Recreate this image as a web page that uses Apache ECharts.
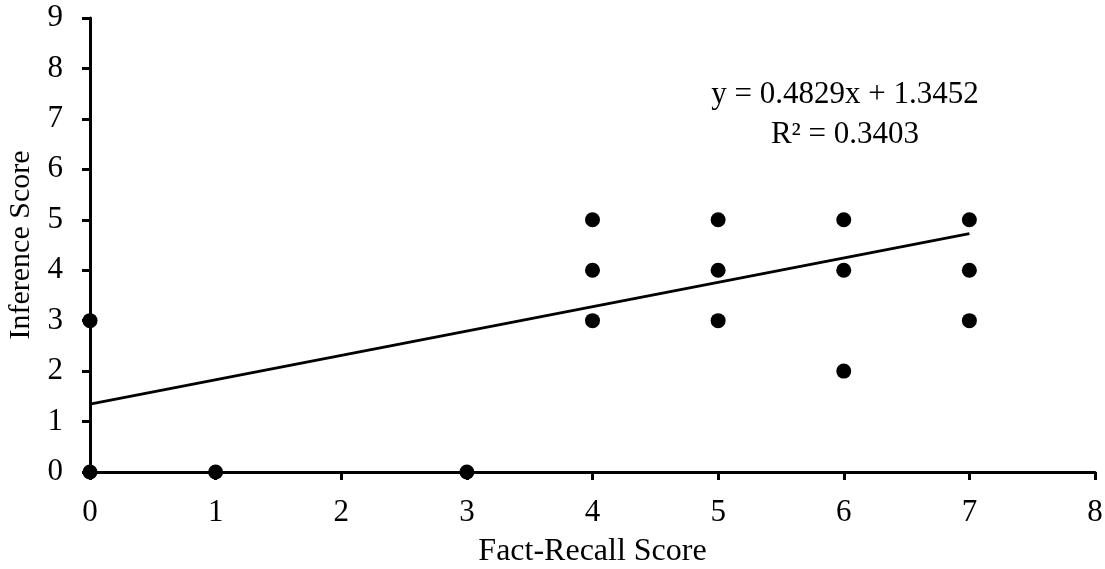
<!DOCTYPE html>
<html>
<head>
<meta charset="utf-8">
<script src="https://cdn.jsdelivr.net/npm/echarts@6/dist/echarts.min.js"></script>
<style>html,body{margin:0;padding:0;background:#fff}#c{width:1105px;height:569px}</style>
</head>
<body>
<div id="c"></div>
<script>
var xValues = [0, 0, 1, 3, 4, 4, 4, 5, 5, 5, 6, 6, 6, 7, 7, 7];
var yValues = [0, 3, 0, 0, 3, 4, 5, 3, 4, 5, 2, 4, 5, 3, 4, 5];
var slope = 0.4829;
var intercept = 1.3452;
var r2 = 0.3403;
var trendX = [0, 7];
var xTicks = [0, 1, 2, 3, 4, 5, 6, 7, 8];
var yTicks = [0, 1, 2, 3, 4, 5, 6, 7, 8, 9];

var points = xValues.map(function (x, i) { return [x, yValues[i]]; });
var trend = trendX.map(function (x) { return [x, slope * x + intercept]; });
var font = '"Liberation Serif", "Times New Roman", serif';

var chart = echarts.init(document.getElementById('c'));
chart.setOption({
  animation: false,
  grid: { left: 90, right: 10, top: 18, bottom: 97, containLabel: false, outerBoundsMode: 'none' },
  xAxis: {
    type: 'value', min: 0, max: 8, interval: 1,
    name: 'Fact-Recall Score', nameLocation: 'middle', nameGap: 64,
    nameTextStyle: { fontFamily: font, fontSize: 32, color: '#000' },
    axisLine: { show: true, lineStyle: { color: '#000', width: 3 } },
    axisTick: { show: true, inside: false, length: 8, lineStyle: { color: '#000', width: 3 } },
    axisLabel: { fontFamily: font, fontSize: 31, color: '#000', margin: 25 },
    splitLine: { show: false }
  },
  yAxis: {
    type: 'value', min: 0, max: 9, interval: 1,
    name: 'Inference Score', nameLocation: 'middle', nameGap: 52, nameRotate: 90,
    nameTextStyle: { fontFamily: font, fontSize: 30, color: '#000' },
    axisLine: { show: true, lineStyle: { color: '#000', width: 3 } },
    axisTick: { show: true, inside: false, length: 8, lineStyle: { color: '#000', width: 3 } },
    axisLabel: { fontFamily: font, fontSize: 31, color: '#000', margin: 27 },
    splitLine: { show: false }
  },
  series: [
    {
      type: 'line', data: trend, symbol: 'none', z: 3,
      lineStyle: { color: '#000', width: 3 }
    },
    {
      type: 'scatter', data: points, symbol: 'circle', symbolSize: 15, z: 4,
      itemStyle: { color: '#000', opacity: 1 }
    }
  ],
  graphic: [
    {
      type: 'text', x: 845, y: 115,
      style: {
        text: 'y = ' + slope + 'x + ' + intercept + '\nR² = ' + r2,
        font: '31px "Liberation Serif"', fill: '#000', align: 'center', verticalAlign: 'middle', lineHeight: 40
      }
    }
  ]
});
</script>
</body>
</html>
